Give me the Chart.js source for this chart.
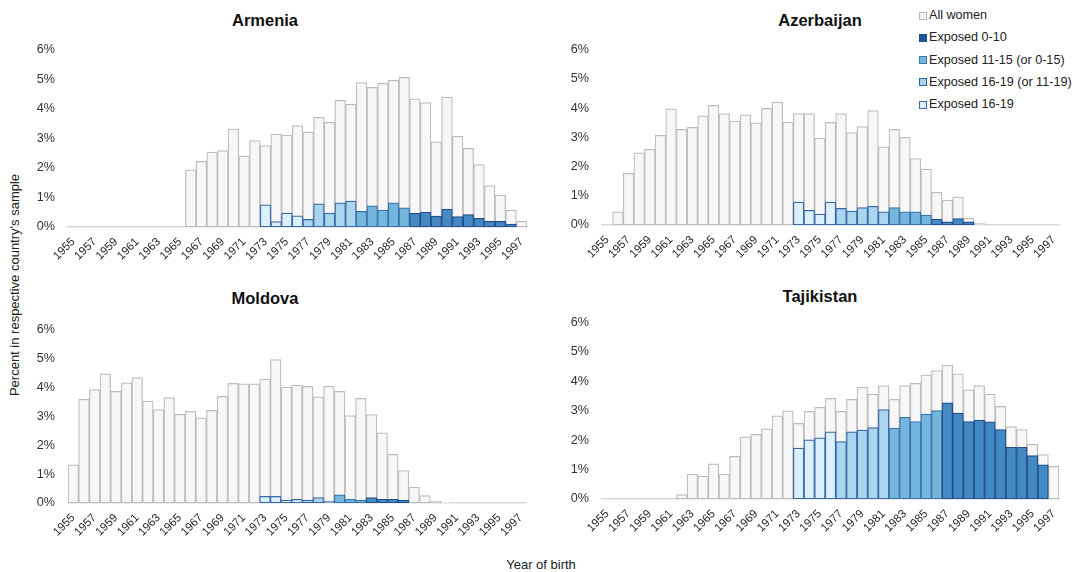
<!DOCTYPE html>
<html>
<head>
<meta charset="utf-8">
<script src="https://cdn.jsdelivr.net/npm/chart.js@4.4.1/dist/chart.umd.min.js"></script>
<style>
  html, body { margin: 0; padding: 0; background: #fff; }
  body { width: 1083px; height: 572px; position: relative; overflow: hidden;
         font-family: "Liberation Sans", Arial, sans-serif; color: #222; }
  canvas { position: absolute; }
  .title { position: absolute; font-weight: bold; font-size: 16.5px; color: #111;
           transform: translate(-50%, -50%); white-space: nowrap; }
  .axis-title { position: absolute; font-size: 13px; color: #222; white-space: nowrap;
                transform: translate(-50%, -50%); }
  .axis-title.vertical { transform: translate(-50%, -50%) rotate(-90deg); }
  .legend { position: absolute; left: 919px; top: 4px; font-size: 12.6px; color: #222; }
  .legend div { height: 22.3px; line-height: 22.3px; white-space: nowrap; }
  .legend span { display: inline-block; width: 6px; height: 6px; margin-right: 2px;
                 vertical-align: -0.5px; border: 1px solid; }
</style>
</head>
<body>

<div class="title" style="left:265px; top:20px;">Armenia</div>
<div class="title" style="left:820px; top:20px;">Azerbaijan</div>
<div class="title" style="left:265px; top:298px;">Moldova</div>
<div class="title" style="left:820px; top:296px;">Tajikistan</div>

<div class="axis-title vertical" style="left:14px; top:285px;">Percent in respective country's sample</div>
<div class="axis-title" style="left:541px; top:564px;">Year of birth</div>

<div class="legend" id="legend"></div>

<canvas id="armenia"></canvas>
<canvas id="azerbaijan"></canvas>
<canvas id="moldova"></canvas>
<canvas id="tajikistan"></canvas>

<script>
// Birth-year categories shared by all four panels
const years = [1955, 1956, 1957, 1958, 1959, 1960, 1961, 1962, 1963, 1964, 1965,
               1966, 1967, 1968, 1969, 1970, 1971, 1972, 1973, 1974, 1975, 1976,
               1977, 1978, 1979, 1980, 1981, 1982, 1983, 1984, 1985, 1986, 1987,
               1988, 1989, 1990, 1991, 1992, 1993, 1994, 1995, 1996, 1997];

// Y-axis tick values (percent)
const yTicks = [0, 1, 2, 3, 4, 5, 6];

// Series names
const seriesNames = ['All women', 'Exposed 0-10', 'Exposed 11-15 (or 0-15)',
                     'Exposed 16-19 (or 11-19)', 'Exposed 16-19'];

// All women: share of each birth year in the country's sample (%), 1955-1997
const armeniaAll = [null, null, null, null, null, null, null, null, null, null, null,
  1.93, 2.22, 2.53, 2.58, 3.31, 2.40, 2.92, 2.75, 3.14, 3.11, 3.43, 3.21, 3.71, 3.54,
  4.28, 4.15, 4.88, 4.72, 4.86, 4.96, 5.06, 4.33, 4.21, 2.88, 4.39, 3.07, 2.66, 2.11,
  1.40, 1.08, 0.57, 0.19];
const azerbaijanAll = [null,
  0.45, 1.77, 2.47, 2.59, 3.07, 3.97, 3.27, 3.34, 3.73, 4.09, 3.81, 3.55, 3.77, 3.49,
  3.99, 4.20, 3.52, 3.81, 3.81, 2.97, 3.51, 3.81, 3.16, 3.37, 3.91, 2.67, 3.27, 3.00,
  2.27, 1.91, 1.12, 0.85, 0.96, 0.24, 0.06,
  null, null, null, null, null, null, null];
const moldovaAll = [
  1.32, 3.59, 3.92, 4.47, 3.86, 4.16, 4.34, 3.53, 3.23, 3.65, 3.07, 3.17, 2.95, 3.21,
  3.69, 4.14, 4.12, 4.12, 4.29, 4.96, 4.01, 4.08, 4.04, 3.67, 4.04, 3.86, 3.02, 3.62,
  3.06, 2.43, 1.68, 1.12, 0.55, 0.26, 0.07, 0.03,
  null, null, null, null, null, null, null];
const tajikistanAll = [null, null, null, null, null, null, null,
  0.15, 0.85, 0.78, 1.20, 0.85, 1.45, 2.11, 2.20, 2.39, 2.83, 3.00, 2.57, 2.98, 3.12,
  3.42, 2.98, 3.39, 3.80, 3.57, 3.86, 3.39, 3.86, 3.93, 4.22, 4.37, 4.55, 4.26, 3.71,
  3.86, 3.57, 3.15, 2.46, 2.36, 1.87, 1.51, 1.11];

// Exposed women (%), listed from birth year 1973 onward
const exposedStart = 1973;
const armeniaExposed = [0.75, 0.18, 0.47, 0.38, 0.26, 0.78, 0.47, 0.82, 0.88, 0.53, 0.72,
  0.57, 0.82, 0.65, 0.46, 0.50, 0.37, 0.61, 0.35, 0.42, 0.29, 0.19, 0.19, 0.10];
const azerbaijanExposed = [0.78, 0.50, 0.37, 0.78, 0.57, 0.48, 0.60, 0.64, 0.45, 0.60,
  0.45, 0.45, 0.34, 0.20, 0.11, 0.22, 0.11];
const moldovaExposed = [0.23, 0.23, 0.10, 0.13, 0.10, 0.19, 0.06, 0.28, 0.13, 0.10, 0.19,
  0.13, 0.13, 0.10];
const tajikistanExposed = [1.73, 2.01, 2.08, 2.28, 1.95, 2.28, 2.34, 2.43, 3.04, 2.41, 2.78,
  2.63, 2.89, 3.01, 3.27, 2.92, 2.63, 2.68, 2.62, 2.36, 1.76, 1.76, 1.48, 1.16];

// Exposure group of each exposed birth year (index into seriesNames)
const armeniaGroup    = [4, 4, 4, 4, 3, 3, 3, 3, 3, 2, 2, 2, 2, 2, 1, 1, 1, 1, 1, 1, 1, 1, 1, 1];
const azerbaijanGroup = [4, 4, 4, 4, 3, 3, 3, 3, 3, 2, 2, 2, 2, 1, 1, 1, 1];
const moldovaGroup    = [4, 4, 4, 4, 3, 3, 3, 2, 2, 2, 1, 1, 1, 1];
const tajikistanGroup = [4, 4, 4, 4, 3, 3, 3, 3, 3, 2, 2, 2, 2, 2, 1, 1, 1, 1, 1, 1, 1, 1, 1, 1];

// Fill / outline for each series
const fills   = ['#f7f7f7', '#4389c3', '#74b6dc', '#a9d6ee', '#dbf0fa'];
const borders = ['#bdbdbd', '#23508f', '#3b73ae', '#3a68a6', '#3d69a4'];
const legendBorders = ['#b5b5b5', '#1d4f8e', '#3b73ae', '#2e5f9f', '#3d69a4'];
const legendFills   = ['#f2f2f2', '#1f5799', '#74b6dc', '#a9d6ee', '#dbf0fa'];

const FONT = '"Liberation Sans", Arial, sans-serif';

function exposedDatasets(values, groups) {
  const sets = [];
  for (let g = 1; g <= 4; g++) {
    const data = years.map(y => {
      const k = y - exposedStart;
      return (k >= 0 && k < values.length && groups[k] === g) ? values[k] : null;
    });
    sets.push({
      label: seriesNames[g], data,
      backgroundColor: fills[g], borderColor: borders[g], borderWidth: 1.25,
      borderSkipped: false, grouped: false, order: 1,
      barPercentage: 1, categoryPercentage: 1
    });
  }
  return sets;
}

function drawPanel(id, plot, totals, exposed, groups) {
  // canvas margins around the plot area; the y scale adds ~7px above on its own
  const padL = 46, padT = 10, padR = 12, padB = 60;
  const canvas = document.getElementById(id);
  const left = plot.l - padL, top = plot.t - padT;
  const w = plot.r - left + padR, h = plot.b - top + padB;
  canvas.style.left = left + 'px';
  canvas.style.top = top + 'px';
  canvas.width = w; canvas.height = h;
  canvas.style.width = w + 'px'; canvas.style.height = h + 'px';

  const datasets = [{
    label: seriesNames[0], data: totals,
    backgroundColor: fills[0], borderColor: borders[0], borderWidth: 1.25,
    borderSkipped: false, grouped: false, order: 2,
    barPercentage: 1, categoryPercentage: 1
  }].concat(exposedDatasets(exposed, groups));

  new Chart(canvas, {
    type: 'bar',
    data: { labels: years.map(String), datasets },
    options: {
      responsive: false, animation: false, devicePixelRatio: 1,
      layout: { padding: { left: 0, top: padT - 7, right: padR, bottom: 0 } },
      plugins: { legend: { display: false }, tooltip: { enabled: false } },
      scales: {
        x: {
          offset: true,
          grid: { display: false },
          border: { display: true, color: '#d9d9d9', width: 1.5 },
          ticks: {
            autoSkip: false, minRotation: 45, maxRotation: 45, padding: 0,
            color: '#262626', font: { family: FONT, size: 11.5 },
            callback: (v, i) => (i % 2 === 0 ? String(years[i]) : '')
          },
          afterFit: s => { s.height = padB; }
        },
        y: {
          min: yTicks[0], max: yTicks[yTicks.length - 1],
          grid: { display: false },
          border: { display: false },
          afterBuildTicks: s => { s.ticks = yTicks.map(v => ({ value: v })); },
          ticks: {
            padding: 5, color: '#333333', font: { family: FONT, size: 12.6 },
            callback: v => v + '%'
          },
          afterFit: s => { s.width = padL; }
        }
      }
    }
  });
}

// Plot-area rectangles for the four panels (page pixels)
drawPanel('armenia',    { l: 68,  t: 47,  r: 527,  b: 227 }, armeniaAll,    armeniaExposed,    armeniaGroup);
drawPanel('azerbaijan', { l: 602, t: 47,  r: 1059, b: 225 }, azerbaijanAll, azerbaijanExposed, azerbaijanGroup);
drawPanel('moldova',    { l: 68,  t: 327, r: 526,  b: 503 }, moldovaAll,    moldovaExposed,    moldovaGroup);
drawPanel('tajikistan', { l: 602, t: 320, r: 1059, b: 499 }, tajikistanAll, tajikistanExposed, tajikistanGroup);

// Legend
const legend = document.getElementById('legend');
seriesNames.forEach((name, i) => {
  const row = document.createElement('div');
  const box = document.createElement('span');
  box.style.background = legendFills[i];
  box.style.borderColor = legendBorders[i];
  row.appendChild(box);
  row.appendChild(document.createTextNode(name));
  legend.appendChild(row);
});
</script>
</body>
</html>
